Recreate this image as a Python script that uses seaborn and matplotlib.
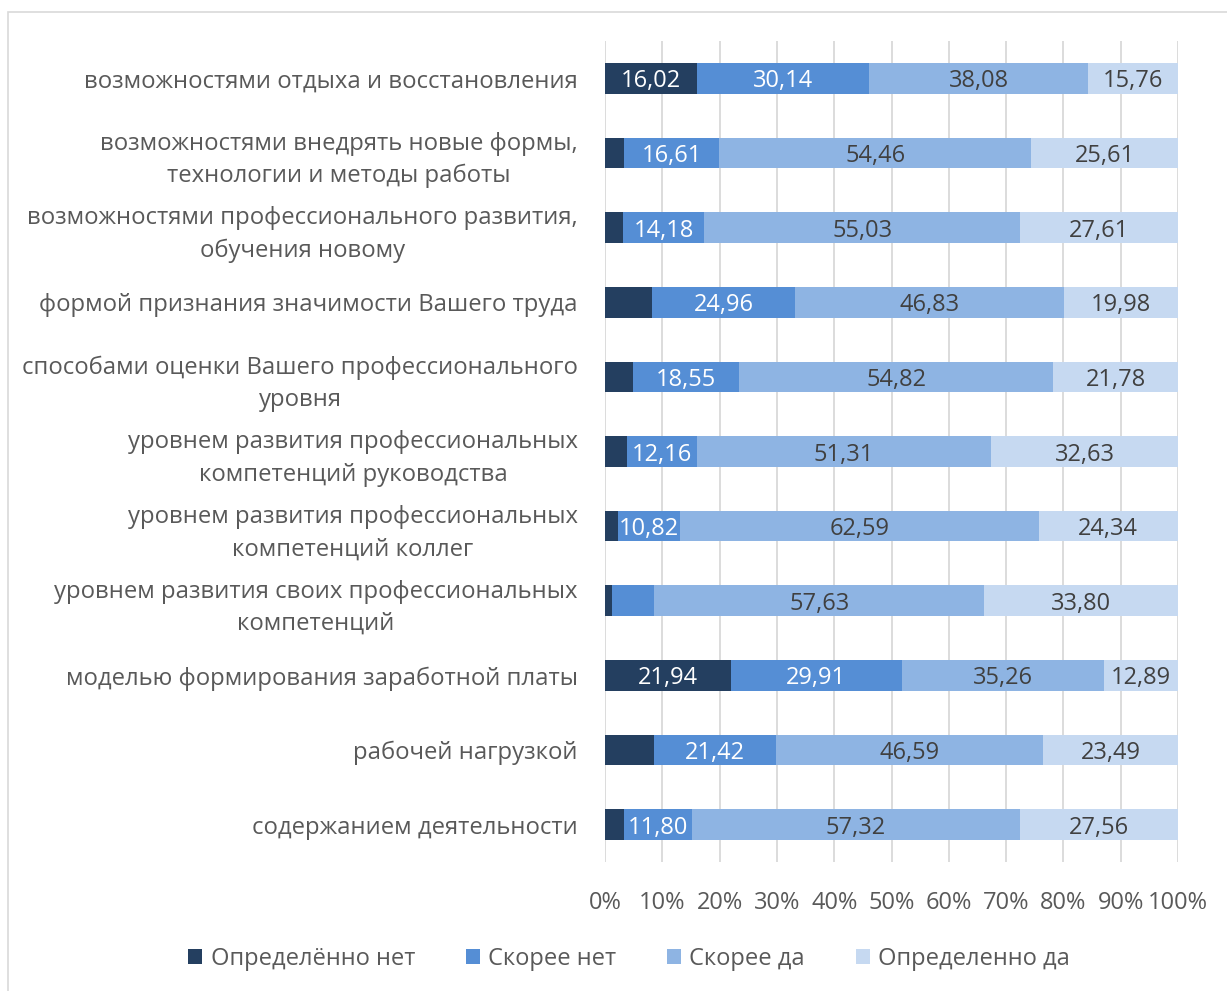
import matplotlib
matplotlib.use("Agg")
import matplotlib.pyplot as plt
from matplotlib.patches import Rectangle, Patch
import numpy as np
import pandas as pd
import seaborn as sns

categories = [
    "возможностями отдыха и восстановления",
    "возможностями внедрять новые формы,\nтехнологии и методы работы",
    "возможностями профессионального развития,\nобучения новому",
    "формой признания значимости Вашего труда",
    "способами оценки Вашего профессионального\nуровня",
    "уровнем развития профессиональных\nкомпетенций руководства",
    "уровнем развития профессиональных\nкомпетенций коллег",
    "уровнем развития своих профессиональных\nкомпетенций",
    "моделью формирования заработной платы",
    "рабочей нагрузкой",
    "содержанием деятельности",
]

series_names = ["Определённо нет", "Скорее нет", "Скорее да", "Определенно да"]

definitely_no = [16.02, 3.32, 3.18, 8.23, 4.85, 3.90, 2.25, 1.20, 21.94, 8.50, 3.32]
rather_no     = [30.14, 16.61, 14.18, 24.96, 18.55, 12.16, 10.82, 7.37, 29.91, 21.42, 11.80]
rather_yes    = [38.08, 54.46, 55.03, 46.83, 54.82, 51.31, 62.59, 57.63, 35.26, 46.59, 57.32]
definitely_yes = [15.76, 25.61, 27.61, 19.98, 21.78, 32.63, 24.34, 33.80, 12.89, 23.49, 27.56]

x_ticks = [0, 10, 20, 30, 40, 50, 60, 70, 80, 90, 100]

colors = ["#243F60", "#558ED5", "#8EB4E3", "#C6D9F1"]
label_colors = ["white", "white", "#404040", "#404040"]

sns.set_theme(style="white")
plt.rcParams["font.family"] = ["Open Sans", "DejaVu Sans"]

fig = plt.figure(figsize=(12.27, 9.91), dpi=100)
ax = fig.add_axes([605 / 1227, 1 - 862 / 991, 573 / 1227, 821 / 991])

values = np.array([definitely_no, rather_no, rather_yes, definitely_yes])
cum = np.cumsum(values, axis=0)

df = pd.DataFrame({"category": categories})
for i in range(4):
    df[f"cum{i}"] = cum[i]

# draw from the full bar backwards so each shorter bar sits on top
for i in reversed(range(4)):
    sns.barplot(data=df, x=f"cum{i}", y="category", orient="h",
                color=colors[i], width=0.41, saturation=1,
                edgecolor="none", linewidth=0, ax=ax, zorder=3)

for i in range(4):
    for j, cat in enumerate(categories):
        v = values[i, j]
        if v >= 10:
            ax.text(cum[i, j] - v / 2, j, f"{v:.2f}".replace(".", ","),
                    ha="center", va="center_baseline", fontsize=17,
                    color=label_colors[i], zorder=5)

ax.set_xlim(0, 100)
ax.set_ylim(len(categories) - 0.5, -0.5)
ax.set_xticks(x_ticks)
ax.set_xticklabels([f"{t}%" for t in x_ticks])
ax.set_xlabel("")
ax.set_ylabel("")
ax.grid(axis="x", color="#D9D9D9", linewidth=1.3, zorder=0)
ax.grid(axis="y", visible=False)
ax.set_axisbelow(True)
for s in ax.spines.values():
    s.set_visible(False)
ax.tick_params(axis="x", length=0, pad=21, labelsize=17, labelcolor="#595959")
ax.tick_params(axis="y", length=0, pad=19.5, labelsize=17.2, labelcolor="#595959")
for lbl in ax.get_yticklabels():
    lbl.set_horizontalalignment("right")
    lbl.set_multialignment("center")
    lbl.set_linespacing(1.45)

handles = [Patch(facecolor=c, edgecolor="none") for c in colors]
leg = fig.legend(handles, series_names, loc="center",
                 bbox_to_anchor=(629 / 1227, 1 - 959 / 991), ncol=4,
                 frameon=False, fontsize=17, handlelength=0.6, handleheight=0.6,
                 handletextpad=0.35, columnspacing=2.15, labelcolor="#595959")

fig.patches.append(Rectangle((8 / 1227, -0.05), 1.2, 1 - 12 / 991 + 0.05,
                             transform=fig.transFigure, fill=False,
                             edgecolor="#D9D9D9", linewidth=1.2))

fig.savefig("out.png", dpi=100, facecolor="white")
